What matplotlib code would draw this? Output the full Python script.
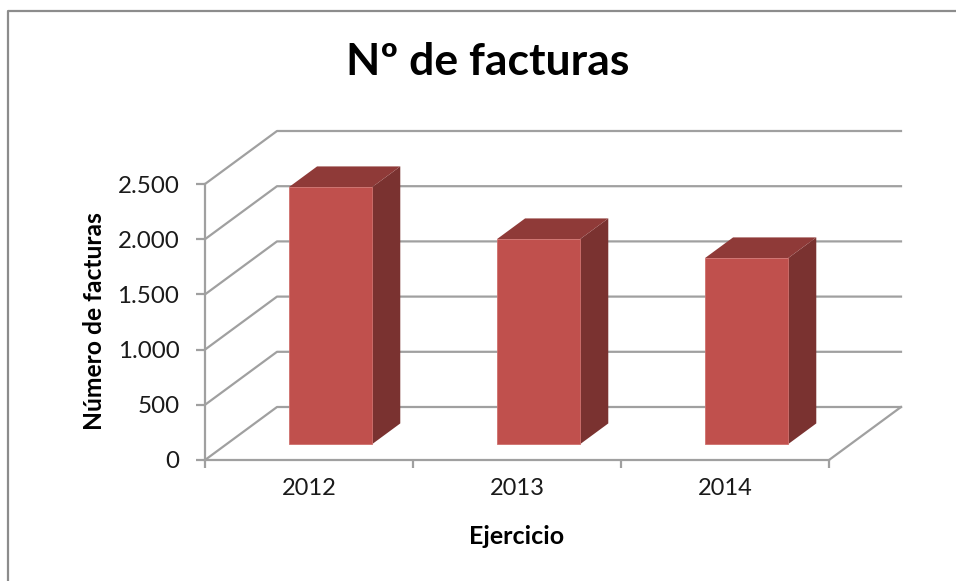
import matplotlib
matplotlib.use('Agg')
from matplotlib import pyplot as plt
from matplotlib.patches import Polygon
from matplotlib.lines import Line2D

plt.rcParams['font.family'] = ['Lato', 'DejaVu Sans']

years = ['2012', '2013', '2014']
facturas = [2328, 1857, 1685]
y_ticks = [0, 500, 1000, 1500, 2000, 2500]
y_labels = ['0', '500', '1.000', '1.500', '2.000', '2.500']

W, H = 956, 581
GRID = '#a0a0a0'
FRONT, TOP, SIDE = '#c0504d', '#8f3a38', '#7a3230'

# depth of the fake 3d box, in data units
DX = 72 / 208
DY = 53 / 276 * 2500
D0, D1 = 0.30, 0.69
BAR_W = 0.40

fig = plt.figure(figsize=(W / 100, H / 100), dpi=100)
ax = fig.add_axes([205 / W, (H - 460) / H, 624 / W, 276 / H])
ax.set_xlim(0, 3)
ax.set_ylim(0, 2500)
ax.patch.set_alpha(0)

for s in ['top', 'right']:
    ax.spines[s].set_visible(False)
for s in ['left', 'bottom']:
    ax.spines[s].set_color(GRID)
    ax.spines[s].set_linewidth(1.6)

ax.set_yticks(y_ticks)
ax.set_yticklabels(y_labels, fontsize=17.4, color='#1a1a1a')
ax.tick_params(axis='y', length=6.5, width=1.6, color=GRID, pad=12)
ax.set_xticks([0, 1, 2, 3])
ax.set_xticklabels([])
ax.tick_params(axis='x', which='major', length=6, width=1.6, color=GRID)
ax.set_xticks([0.5, 1.5, 2.5], minor=True)
ax.set_xticklabels(years, minor=True, fontsize=17, color='#1a1a1a')
ax.tick_params(axis='x', which='minor', length=0, pad=13)

# walls
for v in y_ticks:
    ax.plot([0, DX, 3 + DX], [v, v + DY, v + DY], color=GRID, lw=1.6, clip_on=False, zorder=1)
ax.plot([3, 3 + DX], [0, DY], color=GRID, lw=1.6, clip_on=False, zorder=1)

# bars
for i, v in enumerate(facturas):
    x0 = i + 0.5 - BAR_W / 2
    x1 = x0 + BAR_W
    fx0, fx1 = x0 + D0 * DX, x1 + D0 * DX
    fy0, fy1 = D0 * DY, v + D0 * DY
    bx1 = x1 + D1 * DX
    bx0 = x0 + D1 * DX
    by0, by1 = D1 * DY, v + D1 * DY
    ax.add_patch(Polygon([(fx1, fy0), (bx1, by0), (bx1, by1), (fx1, fy1)], fc=SIDE, ec='none', clip_on=False, zorder=3))
    ax.add_patch(Polygon([(fx0, fy1), (fx1, fy1), (bx1, by1), (bx0, by1)], fc=TOP, ec='none', clip_on=False, zorder=3))
    ax.add_patch(Polygon([(fx0, fy0), (fx1, fy0), (fx1, fy1), (fx0, fy1)], fc=FRONT, ec='#cf6f6c', lw=0.6, clip_on=False, zorder=4))

fig.text(488 / W, 1 - 62 / H, 'Nº de facturas', fontsize=32, fontweight='bold', color='black', ha='center', va='center')
fig.text(95 / W, 1 - 321 / H, 'Número de facturas', fontsize=17.7, fontweight='bold', color='black', rotation=90, ha='center', va='center')
fig.text(517 / W, 1 - 536 / H, 'Ejercicio', fontsize=18, fontweight='bold', color='black', ha='center', va='center')

# chart area border, cut off at right and bottom
fig.add_artist(Line2D([8 / W, 8 / W, 1], [0, 1 - 11 / H, 1 - 11 / H], color='#8c8c8c', lw=1.6))

fig.savefig('out.png', dpi=100)
